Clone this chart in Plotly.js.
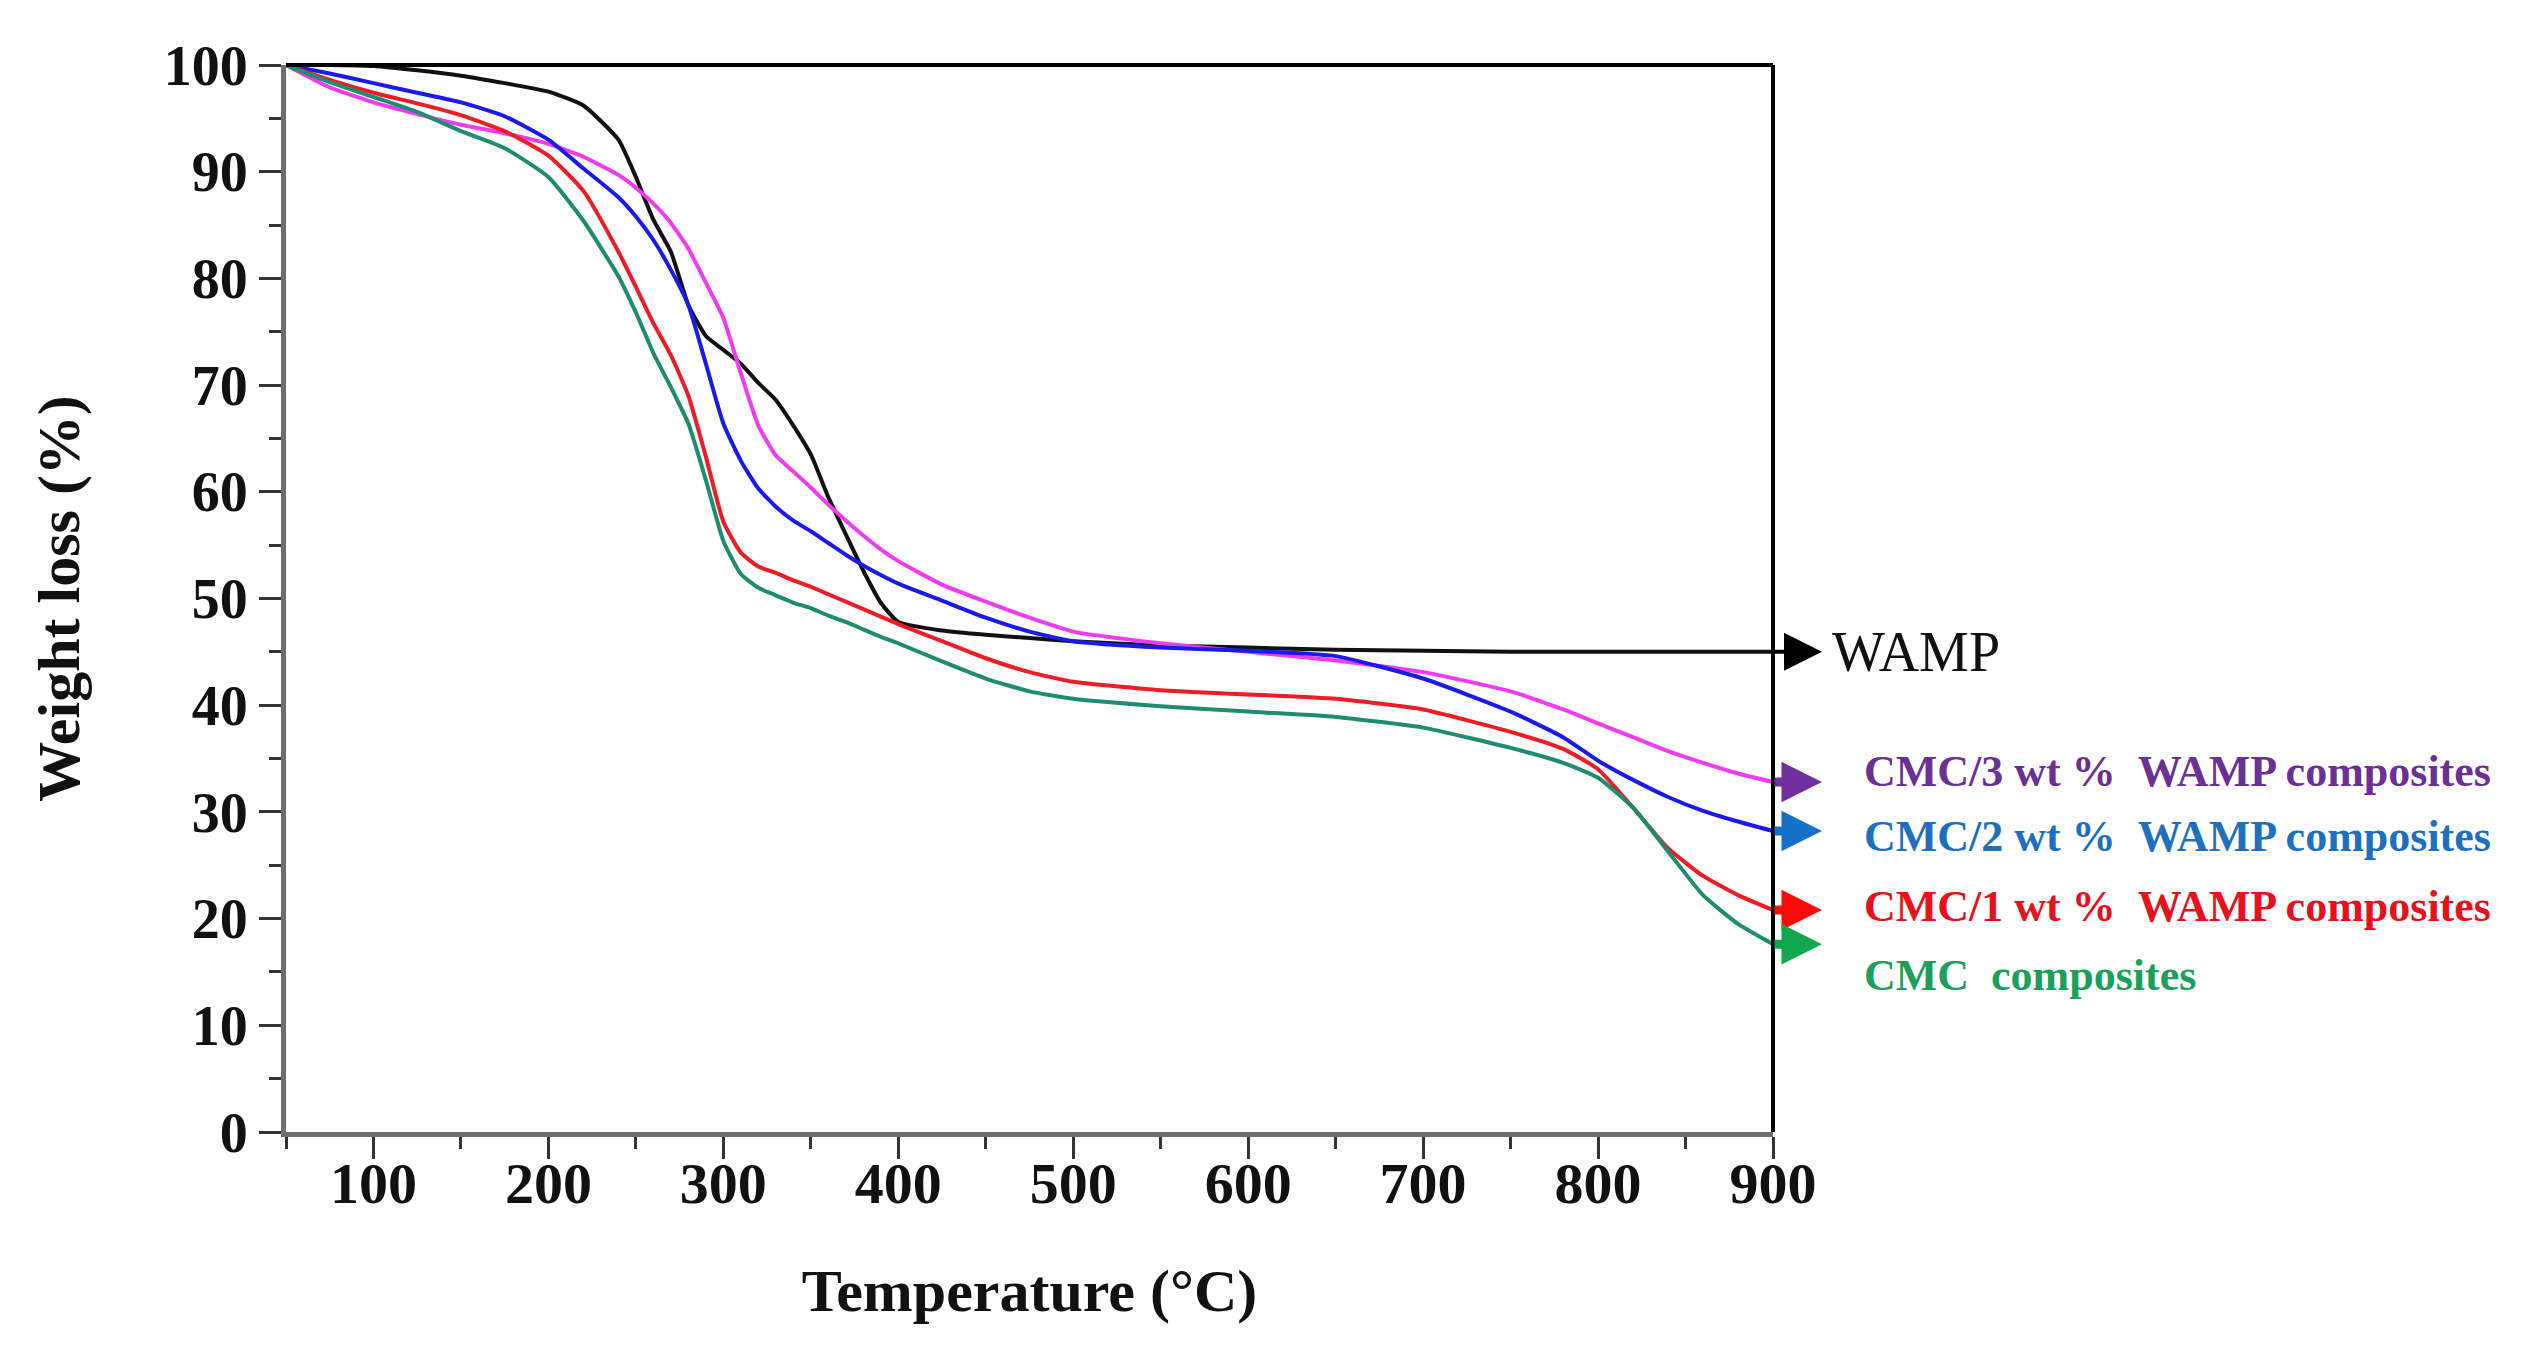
<!DOCTYPE html>
<html>
<head>
<meta charset="utf-8">
<script src="https://cdn.plot.ly/plotly-3.0.1.min.js"></script>
<style>
  body { margin: 0; background: #ffffff; }
  #Graph1 { width: 2534px; height: 1350px; }
</style>
</head>
<body>
<div id="Graph1"></div>
<script>
// temperature grid (deg C) shared by all curves
var temperature = [50, 75, 100, 125, 150, 175, 200, 220, 240, 250, 260, 270, 280, 290, 300, 310, 320, 330, 340, 350,
  360, 370, 380, 390, 400, 425, 450, 475, 500, 550, 600, 650, 700, 750, 780, 800, 820, 840, 860, 880, 900]

var wamp = [100, 100, 99.9, 99.5, 99, 98.3, 97.5, 96.2, 93, 89.5, 85.5, 82.5, 77.5, 74.6, 73.3, 72, 70.2, 68.6, 66.2, 63.5,
  59.5, 56, 52.6, 49.6, 47.8, 47, 46.6, 46.3, 46, 45.6, 45.4, 45.2, 45.1, 45, 45, 45, 45, 45, 45, 45, 45]

var cmc3 = [100, 97.9, 96.5, 95.4, 94.4, 93.6, 92.6, 91.4, 89.7, 88.5, 87, 85.2, 82.8, 79.6, 76.3, 71.1, 66.2, 63.4, 61.9, 60.4,
  58.8, 57.3, 55.9, 54.6, 53.5, 51.3, 49.7, 48.2, 46.9, 45.8, 45, 44.2, 43.1, 41.3, 39.6, 38.3, 37, 35.7, 34.6, 33.6, 32.8]

var cmc2 = [100, 99.2, 98.3, 97.4, 96.5, 95.2, 93, 90.3, 87.6, 85.8, 83.6, 80.8, 77.5, 72, 66.4, 62.9, 60.3, 58.6, 57.3, 56.3,
  55.2, 54.1, 53.1, 52.2, 51.4, 49.8, 48.2, 46.9, 46, 45.4, 45.1, 44.6, 42.5, 39.4, 37, 34.8, 33, 31.4, 30.1, 29.1, 28.2]

var cmc1 = [100, 98.6, 97.4, 96.4, 95.3, 93.8, 91.5, 88.2, 82.5, 79.2, 75.8, 72.8, 69, 63.3, 57.2, 54.3, 53, 52.4, 51.7, 51.1,
  50.4, 49.7, 49, 48.3, 47.6, 46, 44.4, 43.1, 42.2, 41.4, 41, 40.6, 39.6, 37.5, 35.9, 34, 30.4, 26.6, 24, 22.2, 20.8]

var cmc0 = [100, 98.4, 97, 95.6, 93.8, 92.2, 89.5, 85.4, 80.2, 76.8, 73, 69.8, 66.4, 61.1, 55.4, 52.3, 51, 50.3, 49.6, 49.1,
  48.4, 47.8, 47.1, 46.4, 45.8, 44.1, 42.5, 41.3, 40.6, 39.9, 39.4, 38.9, 37.9, 36, 34.6, 33.2, 30.4, 26.3, 22.2, 19.5, 17.6]

var seriesNames = ['WAMP', 'CMC/3 wt %\u00a0\u00a0WAMP composites', 'CMC/2 wt %\u00a0\u00a0WAMP composites',
  'CMC/1 wt %\u00a0\u00a0WAMP composites', 'CMC\u00a0\u00a0composites']

var lineColors = ['#111111', '#f03cf0', '#1a1aee', '#ee1c24', '#1e8c6e']
var arrowColors = ['#000000', '#7030a0', '#1570c8', '#ff0a0a', '#12a850']
var textColors = ['#111111', '#6a3096', '#1f6fbf', '#e8101a', '#1aa05a']

// y where each side label sits (label text is shifted a bit for the bottom one)
var labelY = [45, 33.8, 27.7, 21.1, 14.7]

var allSeries = [wamp, cmc3, cmc2, cmc1, cmc0]
var font = 'Liberation Serif, Times New Roman, serif'

var traces = []
for (var i = 0; i < allSeries.length; i++) {
  traces.push({
    x: temperature,
    y: allSeries[i],
    type: 'scatter',
    mode: 'lines',
    name: seriesNames[i],
    line: {color: lineColors[i], width: 4, shape: 'spline', smoothing: 0.5}
  })
}

var annotations = []
for (var i = 0; i < allSeries.length; i++) {
  var last = allSeries[i][allSeries[i].length - 1]
  // arrow out of the right frame (tail sits on the frame, so it is not culled)
  annotations.push({
    x: 928, y: last, xref: 'x', yref: 'y',
    ax: 900, ay: last, axref: 'x', ayref: 'y',
    text: '', showarrow: true,
    arrowhead: 2,
    arrowwidth: i == 0 ? 4 : 9,
    arrowsize: i == 0 ? 1.9 : 0.9,
    arrowcolor: arrowColors[i]
  })
  // text in paper coords, data coords past the range get hidden
  annotations.push({
    x: i == 0 ? 1.038 : 1.06, y: labelY[i], xref: 'paper', yref: 'y',
    xanchor: 'left', yanchor: 'middle',
    text: seriesNames[i], showarrow: false,
    font: i == 0
      ? {family: font, size: 56, color: textColors[i]}
      : {family: font, size: 44, color: textColors[i], weight: 'bold'}
  })
}

var layout = {
  width: 2534,
  height: 1350,
  margin: {l: 286, r: 761, t: 65, b: 218, pad: 0},
  paper_bgcolor: '#ffffff',
  plot_bgcolor: '#ffffff',
  showlegend: false,
  xaxis: {
    range: [50, 900],
    dtick: 100,
    ticks: 'outside', ticklen: 22, tickwidth: 3, tickcolor: '#333333',
    minor: {dtick: 50, ticks: 'outside', ticklen: 12, tickwidth: 3, tickcolor: '#333333'},
    showline: true, linecolor: '#6e6e6e', linewidth: 5,
    showgrid: false, zeroline: false,
    ticklabelstandoff: -26,
    tickfont: {family: font, size: 58, color: '#111111', weight: 'bold'},
    title: {text: 'Temperature (°C)', standoff: 56,
      font: {family: font, size: 60, color: '#111111', weight: 'bold'}}
  },
  yaxis: {
    range: [0, 100],
    dtick: 10,
    ticks: 'outside', ticklen: 22, tickwidth: 3, tickcolor: '#333333',
    minor: {dtick: 5, ticks: 'outside', ticklen: 12, tickwidth: 3, tickcolor: '#333333'},
    showline: true, linecolor: '#6e6e6e', linewidth: 5,
    showgrid: false, zeroline: false,
    tickfont: {family: font, size: 56, color: '#111111', weight: 'bold'},
    title: {text: 'Weight loss (%)', standoff: 66,
      font: {family: font, size: 60, color: '#111111', weight: 'bold'}}
  },
  shapes: [
    {type: 'line', xref: 'paper', yref: 'paper', x0: 0, x1: 1, y0: 1, y1: 1, line: {color: '#000000', width: 4}},
    {type: 'line', xref: 'paper', yref: 'paper', x0: 1, x1: 1, y0: 0, y1: 1, line: {color: '#000000', width: 4}}
  ],
  annotations: annotations
}

Plotly.newPlot('Graph1', traces, layout, {displayModeBar: false, staticPlot: true})
</script>
</body>
</html>
